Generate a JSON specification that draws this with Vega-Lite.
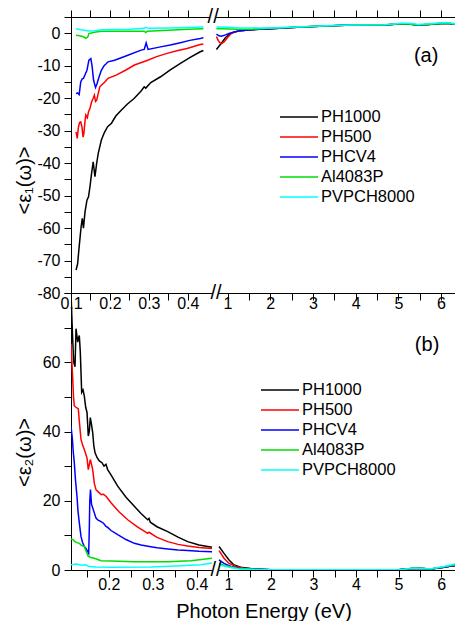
{
  "$schema": "https://vega.github.io/schema/vega-lite/v6.json",
  "padding": {"left": 14, "top": 7, "right": 0, "bottom": 0},
  "bounds": "flush",
  "spacing": 0,
  "config": {
    "font": "Liberation Sans",
    "view": {"stroke": null},
    "axis": {"labelFontSize": 16, "labelColor": "black", "domainColor": "black", "tickColor": "black", "titleFontSize": 20, "titleFontWeight": "normal", "titleColor": "black", "grid": false, "labelFlush": false, "labelOverlap": false, "domainWidth": 1, "tickWidth": 1, "tickSize": 7},
    "legend": {"labelFontSize": 16.5, "labelColor": "black", "symbolType": "M-1.9,0H1.9", "symbolSize": 400, "symbolStrokeWidth": 1.5, "labelOffset": 11, "rowPadding": -0.1, "padding": 0}
  },
  "resolve": {"scale": {"x": "independent", "y": "independent", "color": "independent"}, "legend": {"color": "independent"}},
  "datasets": {
    "e": [
      {"p":"a","s":"PH1000","g":"L","x":0.113,"y":-72.9},{"p":"a","s":"PH1000","g":"L","x":0.117,"y":-71},{"p":"a","s":"PH1000","g":"L","x":0.121,"y":-65.7},{"p":"a","s":"PH1000","g":"L","x":0.124,"y":-62},{"p":"a","s":"PH1000","g":"L","x":0.126,"y":-59.6},{"p":"a","s":"PH1000","g":"L","x":0.129,"y":-57},{"p":"a","s":"PH1000","g":"L","x":0.132,"y":-60},{"p":"a","s":"PH1000","g":"L","x":0.136,"y":-55},{"p":"a","s":"PH1000","g":"L","x":0.141,"y":-51.4},{"p":"a","s":"PH1000","g":"L","x":0.145,"y":-50.4},{"p":"a","s":"PH1000","g":"L","x":0.149,"y":-47},{"p":"a","s":"PH1000","g":"L","x":0.153,"y":-43},{"p":"a","s":"PH1000","g":"L","x":0.157,"y":-39.6},{"p":"a","s":"PH1000","g":"L","x":0.1615,"y":-44.2},{"p":"a","s":"PH1000","g":"L","x":0.166,"y":-40},{"p":"a","s":"PH1000","g":"L","x":0.17,"y":-37},{"p":"a","s":"PH1000","g":"L","x":0.178,"y":-32.9},{"p":"a","s":"PH1000","g":"L","x":0.186,"y":-30.5},{"p":"a","s":"PH1000","g":"L","x":0.194,"y":-28.8},{"p":"a","s":"PH1000","g":"L","x":0.204,"y":-27.7},{"p":"a","s":"PH1000","g":"L","x":0.215,"y":-25.5},{"p":"a","s":"PH1000","g":"L","x":0.229,"y":-23.7},{"p":"a","s":"PH1000","g":"L","x":0.245,"y":-21.8},{"p":"a","s":"PH1000","g":"L","x":0.262,"y":-20.1},{"p":"a","s":"PH1000","g":"L","x":0.28,"y":-17.8},{"p":"a","s":"PH1000","g":"L","x":0.288,"y":-16.5},{"p":"a","s":"PH1000","g":"L","x":0.292,"y":-16.9},{"p":"a","s":"PH1000","g":"L","x":0.305,"y":-15.2},{"p":"a","s":"PH1000","g":"L","x":0.33,"y":-13.4},{"p":"a","s":"PH1000","g":"L","x":0.355,"y":-11.3},{"p":"a","s":"PH1000","g":"L","x":0.381,"y":-9.3},{"p":"a","s":"PH1000","g":"L","x":0.405,"y":-7.5},{"p":"a","s":"PH1000","g":"L","x":0.432,"y":-5.7},{"p":"a","s":"PH1000","g":"L","x":0.44,"y":-5.3},
      {"p":"a","s":"PH1000","g":"R","x":0.74,"y":-5},{"p":"a","s":"PH1000","g":"R","x":0.8,"y":-4},{"p":"a","s":"PH1000","g":"R","x":0.86,"y":-3},{"p":"a","s":"PH1000","g":"R","x":0.95,"y":-1.4},{"p":"a","s":"PH1000","g":"R","x":1.05,"y":-0.2},{"p":"a","s":"PH1000","g":"R","x":1.16,"y":0.4},{"p":"a","s":"PH1000","g":"R","x":1.3,"y":0.8},{"p":"a","s":"PH1000","g":"R","x":1.56,"y":1.1},{"p":"a","s":"PH1000","g":"R","x":2,"y":1.4},{"p":"a","s":"PH1000","g":"R","x":2.73,"y":1.9},{"p":"a","s":"PH1000","g":"R","x":3.3,"y":2.2},{"p":"a","s":"PH1000","g":"R","x":3.9,"y":2.5},{"p":"a","s":"PH1000","g":"R","x":4.67,"y":2.5},{"p":"a","s":"PH1000","g":"R","x":5.07,"y":2.9},{"p":"a","s":"PH1000","g":"R","x":5.3,"y":2.8},{"p":"a","s":"PH1000","g":"R","x":5.46,"y":2.5},{"p":"a","s":"PH1000","g":"R","x":5.7,"y":2.7},{"p":"a","s":"PH1000","g":"R","x":6,"y":3},{"p":"a","s":"PH1000","g":"R","x":6.15,"y":3.1},{"p":"a","s":"PH1000","g":"R","x":6.35,"y":2.7},
      {"p":"a","s":"PH500","g":"L","x":0.113,"y":-30.4},{"p":"a","s":"PH500","g":"L","x":0.116,"y":-32.4},{"p":"a","s":"PH500","g":"L","x":0.119,"y":-29},{"p":"a","s":"PH500","g":"L","x":0.122,"y":-27.5},{"p":"a","s":"PH500","g":"L","x":0.125,"y":-27.3},{"p":"a","s":"PH500","g":"L","x":0.128,"y":-28.8},{"p":"a","s":"PH500","g":"L","x":0.131,"y":-32},{"p":"a","s":"PH500","g":"L","x":0.133,"y":-30.9},{"p":"a","s":"PH500","g":"L","x":0.136,"y":-27},{"p":"a","s":"PH500","g":"L","x":0.138,"y":-25.2},{"p":"a","s":"PH500","g":"L","x":0.142,"y":-26},{"p":"a","s":"PH500","g":"L","x":0.145,"y":-24.2},{"p":"a","s":"PH500","g":"L","x":0.149,"y":-23},{"p":"a","s":"PH500","g":"L","x":0.153,"y":-21.1},{"p":"a","s":"PH500","g":"L","x":0.157,"y":-20},{"p":"a","s":"PH500","g":"L","x":0.16,"y":-19.1},{"p":"a","s":"PH500","g":"L","x":0.163,"y":-21},{"p":"a","s":"PH500","g":"L","x":0.166,"y":-20.6},{"p":"a","s":"PH500","g":"L","x":0.17,"y":-18.5},{"p":"a","s":"PH500","g":"L","x":0.174,"y":-16.5},{"p":"a","s":"PH500","g":"L","x":0.18,"y":-15.8},{"p":"a","s":"PH500","g":"L","x":0.187,"y":-15},{"p":"a","s":"PH500","g":"L","x":0.195,"y":-13.9},{"p":"a","s":"PH500","g":"L","x":0.216,"y":-12.9},{"p":"a","s":"PH500","g":"L","x":0.24,"y":-11.4},{"p":"a","s":"PH500","g":"L","x":0.263,"y":-9.8},{"p":"a","s":"PH500","g":"L","x":0.297,"y":-8.3},{"p":"a","s":"PH500","g":"L","x":0.32,"y":-7.2},{"p":"a","s":"PH500","g":"L","x":0.347,"y":-6.2},{"p":"a","s":"PH500","g":"L","x":0.372,"y":-5.4},{"p":"a","s":"PH500","g":"L","x":0.398,"y":-4.7},{"p":"a","s":"PH500","g":"L","x":0.432,"y":-3.5},{"p":"a","s":"PH500","g":"L","x":0.44,"y":-3.3},
      {"p":"a","s":"PH500","g":"R","x":0.74,"y":-1},{"p":"a","s":"PH500","g":"R","x":0.78,"y":-2.2},{"p":"a","s":"PH500","g":"R","x":0.82,"y":-2.9},{"p":"a","s":"PH500","g":"R","x":0.86,"y":-3.2},{"p":"a","s":"PH500","g":"R","x":0.93,"y":-2.5},{"p":"a","s":"PH500","g":"R","x":1,"y":-1.3},{"p":"a","s":"PH500","g":"R","x":1.09,"y":-0.1},{"p":"a","s":"PH500","g":"R","x":1.16,"y":0.4},{"p":"a","s":"PH500","g":"R","x":1.3,"y":0.8},{"p":"a","s":"PH500","g":"R","x":1.56,"y":1.1},{"p":"a","s":"PH500","g":"R","x":2,"y":1.4},{"p":"a","s":"PH500","g":"R","x":2.73,"y":1.9},{"p":"a","s":"PH500","g":"R","x":3.3,"y":2.2},{"p":"a","s":"PH500","g":"R","x":3.9,"y":2.5},{"p":"a","s":"PH500","g":"R","x":4.67,"y":2.5},{"p":"a","s":"PH500","g":"R","x":5.07,"y":2.9},{"p":"a","s":"PH500","g":"R","x":5.3,"y":2.8},{"p":"a","s":"PH500","g":"R","x":5.46,"y":2.5},{"p":"a","s":"PH500","g":"R","x":5.7,"y":2.7},{"p":"a","s":"PH500","g":"R","x":6,"y":3},{"p":"a","s":"PH500","g":"R","x":6.15,"y":3.1},{"p":"a","s":"PH500","g":"R","x":6.35,"y":2.7},
      {"p":"a","s":"PHCV4","g":"L","x":0.113,"y":-18.6},{"p":"a","s":"PHCV4","g":"L","x":0.117,"y":-18.4},{"p":"a","s":"PHCV4","g":"L","x":0.121,"y":-18.9},{"p":"a","s":"PHCV4","g":"L","x":0.125,"y":-15},{"p":"a","s":"PHCV4","g":"L","x":0.129,"y":-14},{"p":"a","s":"PHCV4","g":"L","x":0.132,"y":-13.9},{"p":"a","s":"PHCV4","g":"L","x":0.136,"y":-12.8},{"p":"a","s":"PHCV4","g":"L","x":0.141,"y":-11.4},{"p":"a","s":"PHCV4","g":"L","x":0.144,"y":-9.5},{"p":"a","s":"PHCV4","g":"L","x":0.146,"y":-8.3},{"p":"a","s":"PHCV4","g":"L","x":0.151,"y":-7.8},{"p":"a","s":"PHCV4","g":"L","x":0.154,"y":-10},{"p":"a","s":"PHCV4","g":"L","x":0.158,"y":-14.5},{"p":"a","s":"PHCV4","g":"L","x":0.163,"y":-16.7},{"p":"a","s":"PHCV4","g":"L","x":0.167,"y":-15.5},{"p":"a","s":"PHCV4","g":"L","x":0.172,"y":-13.5},{"p":"a","s":"PHCV4","g":"L","x":0.178,"y":-11.4},{"p":"a","s":"PHCV4","g":"L","x":0.185,"y":-10},{"p":"a","s":"PHCV4","g":"L","x":0.191,"y":-9.3},{"p":"a","s":"PHCV4","g":"L","x":0.195,"y":-8.8},{"p":"a","s":"PHCV4","g":"L","x":0.212,"y":-8.3},{"p":"a","s":"PHCV4","g":"L","x":0.246,"y":-6.8},{"p":"a","s":"PHCV4","g":"L","x":0.28,"y":-5.2},{"p":"a","s":"PHCV4","g":"L","x":0.288,"y":-5},{"p":"a","s":"PHCV4","g":"L","x":0.293,"y":-3},{"p":"a","s":"PHCV4","g":"L","x":0.298,"y":-5},{"p":"a","s":"PHCV4","g":"L","x":0.33,"y":-4.2},{"p":"a","s":"PHCV4","g":"L","x":0.355,"y":-3.6},{"p":"a","s":"PHCV4","g":"L","x":0.381,"y":-2.9},{"p":"a","s":"PHCV4","g":"L","x":0.405,"y":-2.2},{"p":"a","s":"PHCV4","g":"L","x":0.432,"y":-1.6},{"p":"a","s":"PHCV4","g":"L","x":0.44,"y":-1.4},
      {"p":"a","s":"PHCV4","g":"R","x":0.74,"y":-0.3},{"p":"a","s":"PHCV4","g":"R","x":0.8,"y":-0.8},{"p":"a","s":"PHCV4","g":"R","x":0.86,"y":-0.9},{"p":"a","s":"PHCV4","g":"R","x":0.95,"y":-0.5},{"p":"a","s":"PHCV4","g":"R","x":1.05,"y":0},{"p":"a","s":"PHCV4","g":"R","x":1.16,"y":0.4},{"p":"a","s":"PHCV4","g":"R","x":1.3,"y":0.8},{"p":"a","s":"PHCV4","g":"R","x":1.56,"y":1.1},{"p":"a","s":"PHCV4","g":"R","x":2,"y":1.4},{"p":"a","s":"PHCV4","g":"R","x":2.73,"y":1.9},{"p":"a","s":"PHCV4","g":"R","x":3.3,"y":2.2},{"p":"a","s":"PHCV4","g":"R","x":3.9,"y":2.5},{"p":"a","s":"PHCV4","g":"R","x":4.67,"y":2.5},{"p":"a","s":"PHCV4","g":"R","x":5.07,"y":2.9},{"p":"a","s":"PHCV4","g":"R","x":5.3,"y":2.8},{"p":"a","s":"PHCV4","g":"R","x":5.46,"y":2.5},{"p":"a","s":"PHCV4","g":"R","x":5.7,"y":2.7},{"p":"a","s":"PHCV4","g":"R","x":6,"y":3},{"p":"a","s":"PHCV4","g":"R","x":6.15,"y":3.1},{"p":"a","s":"PHCV4","g":"R","x":6.35,"y":2.7},
      {"p":"a","s":"Al4083P","g":"L","x":0.113,"y":-0.6},{"p":"a","s":"Al4083P","g":"L","x":0.122,"y":-0.8},{"p":"a","s":"Al4083P","g":"L","x":0.132,"y":-1.1},{"p":"a","s":"Al4083P","g":"L","x":0.138,"y":-1.6},{"p":"a","s":"Al4083P","g":"L","x":0.143,"y":-1.2},{"p":"a","s":"Al4083P","g":"L","x":0.146,"y":-0.1},{"p":"a","s":"Al4083P","g":"L","x":0.16,"y":0.3},{"p":"a","s":"Al4083P","g":"L","x":0.178,"y":0.6},{"p":"a","s":"Al4083P","g":"L","x":0.204,"y":0.6},{"p":"a","s":"Al4083P","g":"L","x":0.25,"y":0.6},{"p":"a","s":"Al4083P","g":"L","x":0.288,"y":0.6},{"p":"a","s":"Al4083P","g":"L","x":0.292,"y":0.2},{"p":"a","s":"Al4083P","g":"L","x":0.296,"y":0.6},{"p":"a","s":"Al4083P","g":"L","x":0.35,"y":0.9},{"p":"a","s":"Al4083P","g":"L","x":0.4,"y":1.2},{"p":"a","s":"Al4083P","g":"L","x":0.44,"y":1.4},
      {"p":"a","s":"Al4083P","g":"R","x":0.74,"y":1.4},{"p":"a","s":"Al4083P","g":"R","x":0.9,"y":1.4},{"p":"a","s":"Al4083P","g":"R","x":1.2,"y":1.2},{"p":"a","s":"Al4083P","g":"R","x":1.56,"y":1.2},{"p":"a","s":"Al4083P","g":"R","x":2,"y":1.5},{"p":"a","s":"Al4083P","g":"R","x":2.73,"y":1.9},{"p":"a","s":"Al4083P","g":"R","x":3.3,"y":2.2},{"p":"a","s":"Al4083P","g":"R","x":3.9,"y":2.5},{"p":"a","s":"Al4083P","g":"R","x":4.67,"y":2.5},{"p":"a","s":"Al4083P","g":"R","x":5.07,"y":2.9},{"p":"a","s":"Al4083P","g":"R","x":5.3,"y":2.8},{"p":"a","s":"Al4083P","g":"R","x":5.46,"y":2.5},{"p":"a","s":"Al4083P","g":"R","x":5.7,"y":2.7},{"p":"a","s":"Al4083P","g":"R","x":6,"y":3},{"p":"a","s":"Al4083P","g":"R","x":6.15,"y":3.1},{"p":"a","s":"Al4083P","g":"R","x":6.35,"y":2.7},
      {"p":"a","s":"PVPCH8000","g":"L","x":0.113,"y":1.4},{"p":"a","s":"PVPCH8000","g":"L","x":0.125,"y":1.1},{"p":"a","s":"PVPCH8000","g":"L","x":0.145,"y":0.7},{"p":"a","s":"PVPCH8000","g":"L","x":0.16,"y":0.8},{"p":"a","s":"PVPCH8000","g":"L","x":0.178,"y":1.1},{"p":"a","s":"PVPCH8000","g":"L","x":0.25,"y":1.2},{"p":"a","s":"PVPCH8000","g":"L","x":0.288,"y":1.5},{"p":"a","s":"PVPCH8000","g":"L","x":0.292,"y":1.8},{"p":"a","s":"PVPCH8000","g":"L","x":0.3,"y":1.5},{"p":"a","s":"PVPCH8000","g":"L","x":0.35,"y":1.6},{"p":"a","s":"PVPCH8000","g":"L","x":0.4,"y":1.8},{"p":"a","s":"PVPCH8000","g":"L","x":0.44,"y":1.9},
      {"p":"a","s":"PVPCH8000","g":"R","x":0.74,"y":1.9},{"p":"a","s":"PVPCH8000","g":"R","x":0.9,"y":1.9},{"p":"a","s":"PVPCH8000","g":"R","x":1.3,"y":1.6},{"p":"a","s":"PVPCH8000","g":"R","x":2,"y":1.6},{"p":"a","s":"PVPCH8000","g":"R","x":2.73,"y":2},{"p":"a","s":"PVPCH8000","g":"R","x":3.3,"y":2.3},{"p":"a","s":"PVPCH8000","g":"R","x":3.9,"y":2.5},{"p":"a","s":"PVPCH8000","g":"R","x":4.67,"y":2.6},{"p":"a","s":"PVPCH8000","g":"R","x":5.07,"y":3.1},{"p":"a","s":"PVPCH8000","g":"R","x":5.3,"y":3.1},{"p":"a","s":"PVPCH8000","g":"R","x":5.46,"y":2.7},{"p":"a","s":"PVPCH8000","g":"R","x":5.7,"y":2.9},{"p":"a","s":"PVPCH8000","g":"R","x":6,"y":3.2},{"p":"a","s":"PVPCH8000","g":"R","x":6.15,"y":3.3},{"p":"a","s":"PVPCH8000","g":"R","x":6.35,"y":2.9},

      {"p":"b","s":"PH1000","g":"L","x":0.114,"y":80},{"p":"b","s":"PH1000","g":"L","x":0.1174,"y":68},{"p":"b","s":"PH1000","g":"L","x":0.1201,"y":60},{"p":"b","s":"PH1000","g":"L","x":0.1231,"y":58.7},{"p":"b","s":"PH1000","g":"L","x":0.1254,"y":69.7},{"p":"b","s":"PH1000","g":"L","x":0.1292,"y":65.8},{"p":"b","s":"PH1000","g":"L","x":0.131,"y":67},{"p":"b","s":"PH1000","g":"L","x":0.1329,"y":67.7},{"p":"b","s":"PH1000","g":"L","x":0.1351,"y":63},{"p":"b","s":"PH1000","g":"L","x":0.1383,"y":51.3},{"p":"b","s":"PH1000","g":"L","x":0.1413,"y":52},{"p":"b","s":"PH1000","g":"L","x":0.1442,"y":50.3},{"p":"b","s":"PH1000","g":"L","x":0.1474,"y":47},{"p":"b","s":"PH1000","g":"L","x":0.1504,"y":45.5},{"p":"b","s":"PH1000","g":"L","x":0.1533,"y":38.7},{"p":"b","s":"PH1000","g":"L","x":0.1556,"y":40},{"p":"b","s":"PH1000","g":"L","x":0.1579,"y":44},{"p":"b","s":"PH1000","g":"L","x":0.1606,"y":42},{"p":"b","s":"PH1000","g":"L","x":0.1633,"y":39.7},{"p":"b","s":"PH1000","g":"L","x":0.1658,"y":36},{"p":"b","s":"PH1000","g":"L","x":0.1685,"y":33.9},{"p":"b","s":"PH1000","g":"L","x":0.1731,"y":32.5},{"p":"b","s":"PH1000","g":"L","x":0.1783,"y":31.5},{"p":"b","s":"PH1000","g":"L","x":0.1844,"y":31},{"p":"b","s":"PH1000","g":"L","x":0.189,"y":30},{"p":"b","s":"PH1000","g":"L","x":0.1935,"y":30.5},{"p":"b","s":"PH1000","g":"L","x":0.1974,"y":29},{"p":"b","s":"PH1000","g":"L","x":0.2049,"y":27.5},{"p":"b","s":"PH1000","g":"L","x":0.2201,"y":24.2},{"p":"b","s":"PH1000","g":"L","x":0.239,"y":21},{"p":"b","s":"PH1000","g":"L","x":0.2579,"y":18.4},{"p":"b","s":"PH1000","g":"L","x":0.2731,"y":16.3},{"p":"b","s":"PH1000","g":"L","x":0.2883,"y":14.5},{"p":"b","s":"PH1000","g":"L","x":0.2913,"y":14.9},{"p":"b","s":"PH1000","g":"L","x":0.2942,"y":13.8},{"p":"b","s":"PH1000","g":"L","x":0.3095,"y":12.5},{"p":"b","s":"PH1000","g":"L","x":0.3338,"y":11.1},{"p":"b","s":"PH1000","g":"L","x":0.3572,"y":9.5},{"p":"b","s":"PH1000","g":"L","x":0.3792,"y":8.2},{"p":"b","s":"PH1000","g":"L","x":0.4049,"y":7.2},{"p":"b","s":"PH1000","g":"L","x":0.4345,"y":6.6},
      {"p":"b","s":"PH1000","g":"R","x":0.781,"y":6.8},{"p":"b","s":"PH1000","g":"R","x":0.898,"y":4.8},{"p":"b","s":"PH1000","g":"R","x":1.016,"y":2.9},{"p":"b","s":"PH1000","g":"R","x":1.134,"y":1.45},{"p":"b","s":"PH1000","g":"R","x":1.291,"y":0.8},{"p":"b","s":"PH1000","g":"R","x":1.526,"y":0.4},{"p":"b","s":"PH1000","g":"R","x":2,"y":0.1},{"p":"b","s":"PH1000","g":"R","x":3,"y":0.05},{"p":"b","s":"PH1000","g":"R","x":4,"y":0.05},{"p":"b","s":"PH1000","g":"R","x":5,"y":0.1},{"p":"b","s":"PH1000","g":"R","x":5.2,"y":0.3},{"p":"b","s":"PH1000","g":"R","x":5.37,"y":0.5},{"p":"b","s":"PH1000","g":"R","x":5.55,"y":0.4},{"p":"b","s":"PH1000","g":"R","x":5.76,"y":0.3},{"p":"b","s":"PH1000","g":"R","x":6.07,"y":0.8},{"p":"b","s":"PH1000","g":"R","x":6.2,"y":1.1},{"p":"b","s":"PH1000","g":"R","x":6.35,"y":1.3},
      {"p":"b","s":"PH500","g":"L","x":0.114,"y":65.3},{"p":"b","s":"PH500","g":"L","x":0.1179,"y":55.2},{"p":"b","s":"PH500","g":"L","x":0.1197,"y":50},{"p":"b","s":"PH500","g":"L","x":0.1215,"y":47.4},{"p":"b","s":"PH500","g":"L","x":0.1254,"y":47},{"p":"b","s":"PH500","g":"L","x":0.1306,"y":46.5},{"p":"b","s":"PH500","g":"L","x":0.1329,"y":43},{"p":"b","s":"PH500","g":"L","x":0.1367,"y":37.7},{"p":"b","s":"PH500","g":"L","x":0.1406,"y":36},{"p":"b","s":"PH500","g":"L","x":0.1442,"y":34.8},{"p":"b","s":"PH500","g":"L","x":0.1504,"y":32.4},{"p":"b","s":"PH500","g":"L","x":0.1533,"y":29},{"p":"b","s":"PH500","g":"L","x":0.1579,"y":31.9},{"p":"b","s":"PH500","g":"L","x":0.1606,"y":30.5},{"p":"b","s":"PH500","g":"L","x":0.1633,"y":29},{"p":"b","s":"PH500","g":"L","x":0.167,"y":25},{"p":"b","s":"PH500","g":"L","x":0.1708,"y":23.2},{"p":"b","s":"PH500","g":"L","x":0.1765,"y":22.5},{"p":"b","s":"PH500","g":"L","x":0.1822,"y":21.8},{"p":"b","s":"PH500","g":"L","x":0.1879,"y":21.9},{"p":"b","s":"PH500","g":"L","x":0.1935,"y":21.3},{"p":"b","s":"PH500","g":"L","x":0.2049,"y":19.4},{"p":"b","s":"PH500","g":"L","x":0.2231,"y":16.8},{"p":"b","s":"PH500","g":"L","x":0.2429,"y":14.5},{"p":"b","s":"PH500","g":"L","x":0.264,"y":12.5},{"p":"b","s":"PH500","g":"L","x":0.2883,"y":10.6},{"p":"b","s":"PH500","g":"L","x":0.2913,"y":10.9},{"p":"b","s":"PH500","g":"L","x":0.3095,"y":9.4},{"p":"b","s":"PH500","g":"L","x":0.3338,"y":8.2},{"p":"b","s":"PH500","g":"L","x":0.3572,"y":7.4},{"p":"b","s":"PH500","g":"L","x":0.3792,"y":6.9},{"p":"b","s":"PH500","g":"L","x":0.4049,"y":6.5},{"p":"b","s":"PH500","g":"L","x":0.4345,"y":6.2},
      {"p":"b","s":"PH500","g":"R","x":0.781,"y":5.6},{"p":"b","s":"PH500","g":"R","x":0.898,"y":3.4},{"p":"b","s":"PH500","g":"R","x":1.016,"y":1.9},{"p":"b","s":"PH500","g":"R","x":1.18,"y":1},{"p":"b","s":"PH500","g":"R","x":1.37,"y":0.5},{"p":"b","s":"PH500","g":"R","x":1.6,"y":0.2},{"p":"b","s":"PH500","g":"R","x":2,"y":0.1},{"p":"b","s":"PH500","g":"R","x":3,"y":0.05},{"p":"b","s":"PH500","g":"R","x":4,"y":0.05},{"p":"b","s":"PH500","g":"R","x":5,"y":0.1},{"p":"b","s":"PH500","g":"R","x":5.2,"y":0.3},{"p":"b","s":"PH500","g":"R","x":5.37,"y":0.5},{"p":"b","s":"PH500","g":"R","x":5.55,"y":0.4},{"p":"b","s":"PH500","g":"R","x":5.76,"y":0.3},{"p":"b","s":"PH500","g":"R","x":6.07,"y":0.8},{"p":"b","s":"PH500","g":"R","x":6.2,"y":1.1},{"p":"b","s":"PH500","g":"R","x":6.35,"y":1.2},
      {"p":"b","s":"PHCV4","g":"L","x":0.114,"y":41.6},{"p":"b","s":"PHCV4","g":"L","x":0.117,"y":38},{"p":"b","s":"PHCV4","g":"L","x":0.1192,"y":34},{"p":"b","s":"PHCV4","g":"L","x":0.1215,"y":31},{"p":"b","s":"PHCV4","g":"L","x":0.1242,"y":26},{"p":"b","s":"PHCV4","g":"L","x":0.1276,"y":21.3},{"p":"b","s":"PHCV4","g":"L","x":0.1299,"y":17},{"p":"b","s":"PHCV4","g":"L","x":0.1329,"y":13.6},{"p":"b","s":"PHCV4","g":"L","x":0.1367,"y":9.7},{"p":"b","s":"PHCV4","g":"L","x":0.1401,"y":8},{"p":"b","s":"PHCV4","g":"L","x":0.1442,"y":6.8},{"p":"b","s":"PHCV4","g":"L","x":0.1481,"y":6.2},{"p":"b","s":"PHCV4","g":"L","x":0.152,"y":5.3},{"p":"b","s":"PHCV4","g":"L","x":0.1542,"y":4.8},{"p":"b","s":"PHCV4","g":"L","x":0.1556,"y":12},{"p":"b","s":"PHCV4","g":"L","x":0.1567,"y":20},{"p":"b","s":"PHCV4","g":"L","x":0.1583,"y":23.2},{"p":"b","s":"PHCV4","g":"L","x":0.1606,"y":19},{"p":"b","s":"PHCV4","g":"L","x":0.167,"y":16.5},{"p":"b","s":"PHCV4","g":"L","x":0.1708,"y":15},{"p":"b","s":"PHCV4","g":"L","x":0.1747,"y":14.5},{"p":"b","s":"PHCV4","g":"L","x":0.1822,"y":14},{"p":"b","s":"PHCV4","g":"L","x":0.1879,"y":13.5},{"p":"b","s":"PHCV4","g":"L","x":0.1935,"y":12.6},{"p":"b","s":"PHCV4","g":"L","x":0.1974,"y":12.3},{"p":"b","s":"PHCV4","g":"L","x":0.2049,"y":11.4},{"p":"b","s":"PHCV4","g":"L","x":0.2201,"y":10.2},{"p":"b","s":"PHCV4","g":"L","x":0.239,"y":8.8},{"p":"b","s":"PHCV4","g":"L","x":0.2579,"y":7.7},{"p":"b","s":"PHCV4","g":"L","x":0.2731,"y":7.2},{"p":"b","s":"PHCV4","g":"L","x":0.292,"y":6.8},{"p":"b","s":"PHCV4","g":"L","x":0.3095,"y":6.4},{"p":"b","s":"PHCV4","g":"L","x":0.3338,"y":6.1},{"p":"b","s":"PHCV4","g":"L","x":0.3572,"y":5.8},{"p":"b","s":"PHCV4","g":"L","x":0.3792,"y":5.6},{"p":"b","s":"PHCV4","g":"L","x":0.4049,"y":5.4},{"p":"b","s":"PHCV4","g":"L","x":0.4345,"y":5.3},
      {"p":"b","s":"PHCV4","g":"R","x":0.781,"y":2.9},{"p":"b","s":"PHCV4","g":"R","x":0.898,"y":1.9},{"p":"b","s":"PHCV4","g":"R","x":1.06,"y":1},{"p":"b","s":"PHCV4","g":"R","x":1.25,"y":0.5},{"p":"b","s":"PHCV4","g":"R","x":1.6,"y":0.2},{"p":"b","s":"PHCV4","g":"R","x":2,"y":0.1},{"p":"b","s":"PHCV4","g":"R","x":3,"y":0.05},{"p":"b","s":"PHCV4","g":"R","x":4,"y":0.05},{"p":"b","s":"PHCV4","g":"R","x":5,"y":0.1},{"p":"b","s":"PHCV4","g":"R","x":5.2,"y":0.3},{"p":"b","s":"PHCV4","g":"R","x":5.37,"y":0.5},{"p":"b","s":"PHCV4","g":"R","x":5.55,"y":0.4},{"p":"b","s":"PHCV4","g":"R","x":5.76,"y":0.3},{"p":"b","s":"PHCV4","g":"R","x":6.07,"y":0.8},{"p":"b","s":"PHCV4","g":"R","x":6.2,"y":1.1},{"p":"b","s":"PHCV4","g":"R","x":6.35,"y":1.3},
      {"p":"b","s":"Al4083P","g":"L","x":0.114,"y":9},{"p":"b","s":"Al4083P","g":"L","x":0.1185,"y":8.8},{"p":"b","s":"Al4083P","g":"L","x":0.1231,"y":8.2},{"p":"b","s":"Al4083P","g":"L","x":0.1276,"y":7.9},{"p":"b","s":"Al4083P","g":"L","x":0.1329,"y":7.7},{"p":"b","s":"Al4083P","g":"L","x":0.1367,"y":7.2},{"p":"b","s":"Al4083P","g":"L","x":0.1442,"y":6.8},{"p":"b","s":"Al4083P","g":"L","x":0.1481,"y":5.5},{"p":"b","s":"Al4083P","g":"L","x":0.1533,"y":3.9},{"p":"b","s":"Al4083P","g":"L","x":0.1595,"y":3.6},{"p":"b","s":"Al4083P","g":"L","x":0.167,"y":3.4},{"p":"b","s":"Al4083P","g":"L","x":0.1822,"y":2.7},{"p":"b","s":"Al4083P","g":"L","x":0.2049,"y":2.6},{"p":"b","s":"Al4083P","g":"L","x":0.2579,"y":2.4},{"p":"b","s":"Al4083P","g":"L","x":0.3338,"y":2.4},{"p":"b","s":"Al4083P","g":"L","x":0.3867,"y":2.7},{"p":"b","s":"Al4083P","g":"L","x":0.4345,"y":3.4},
      {"p":"b","s":"Al4083P","g":"R","x":0.781,"y":1.9},{"p":"b","s":"Al4083P","g":"R","x":0.94,"y":1.2},{"p":"b","s":"Al4083P","g":"R","x":1.2,"y":0.5},{"p":"b","s":"Al4083P","g":"R","x":1.6,"y":0.2},{"p":"b","s":"Al4083P","g":"R","x":2,"y":0.1},{"p":"b","s":"Al4083P","g":"R","x":3,"y":0.05},{"p":"b","s":"Al4083P","g":"R","x":4,"y":0.05},{"p":"b","s":"Al4083P","g":"R","x":5,"y":0.1},{"p":"b","s":"Al4083P","g":"R","x":5.2,"y":0.3},{"p":"b","s":"Al4083P","g":"R","x":5.37,"y":0.5},{"p":"b","s":"Al4083P","g":"R","x":5.55,"y":0.4},{"p":"b","s":"Al4083P","g":"R","x":5.76,"y":0.3},{"p":"b","s":"Al4083P","g":"R","x":6.07,"y":0.9},{"p":"b","s":"Al4083P","g":"R","x":6.2,"y":1.2},{"p":"b","s":"Al4083P","g":"R","x":6.35,"y":1.5},
      {"p":"b","s":"PVPCH8000","g":"L","x":0.114,"y":1.5},{"p":"b","s":"PVPCH8000","g":"L","x":0.1276,"y":1.7},{"p":"b","s":"PVPCH8000","g":"L","x":0.1367,"y":1.4},{"p":"b","s":"PVPCH8000","g":"L","x":0.1481,"y":1.5},{"p":"b","s":"PVPCH8000","g":"L","x":0.1549,"y":1},{"p":"b","s":"PVPCH8000","g":"L","x":0.1708,"y":0.9},{"p":"b","s":"PVPCH8000","g":"L","x":0.2049,"y":0.8},{"p":"b","s":"PVPCH8000","g":"L","x":0.2958,"y":0.9},{"p":"b","s":"PVPCH8000","g":"L","x":0.364,"y":1.2},{"p":"b","s":"PVPCH8000","g":"L","x":0.4095,"y":1.5},{"p":"b","s":"PVPCH8000","g":"L","x":0.4345,"y":2},
      {"p":"b","s":"PVPCH8000","g":"R","x":0.781,"y":1.45},{"p":"b","s":"PVPCH8000","g":"R","x":1.02,"y":0.8},{"p":"b","s":"PVPCH8000","g":"R","x":1.25,"y":0.3},{"p":"b","s":"PVPCH8000","g":"R","x":1.6,"y":0.15},{"p":"b","s":"PVPCH8000","g":"R","x":2,"y":0.1},{"p":"b","s":"PVPCH8000","g":"R","x":3,"y":0.05},{"p":"b","s":"PVPCH8000","g":"R","x":4,"y":0.05},{"p":"b","s":"PVPCH8000","g":"R","x":5.06,"y":0.1},{"p":"b","s":"PVPCH8000","g":"R","x":5.2,"y":0.35},{"p":"b","s":"PVPCH8000","g":"R","x":5.37,"y":0.55},{"p":"b","s":"PVPCH8000","g":"R","x":5.55,"y":0.45},{"p":"b","s":"PVPCH8000","g":"R","x":5.76,"y":0.35},{"p":"b","s":"PVPCH8000","g":"R","x":6.07,"y":1},{"p":"b","s":"PVPCH8000","g":"R","x":6.2,"y":1.4},{"p":"b","s":"PVPCH8000","g":"R","x":6.35,"y":1.8}
    ]
  },
  "vconcat": [
    {
      "width": 385, "height": 276,
      "resolve": {"axis": {"x": "independent", "y": "independent"}},
      "layer": [
        {
          "data": {"values": [{"t": "gap"}]},
          "mark": {"type": "rect", "color": "white"},
          "encoding": {
            "x": {"datum": 0.46, "type": "quantitative", "scale": {"domain": [0.1, 0.457, 0.73, 6.35], "range": [0, 139, 145, 385], "nice": false, "zero": false}, "axis": null},
            "x2": {"datum": 0.727},
            "y": {"datum": 7, "type": "quantitative", "scale": {"domain": [-80, 5], "nice": false, "zero": false}, "axis": null},
            "y2": {"datum": -82}
          }
        },
        {
          "data": {"name": "e"},
          "transform": [{"filter": "datum.p === 'a'"}],
          "mark": {"type": "line", "strokeWidth": 1.5, "clip": true},
          "encoding": {
            "x": {"field": "x", "type": "quantitative", "scale": {"domain": [0.1, 0.457, 0.73, 6.35], "range": [0, 139, 145, 385], "nice": false, "zero": false},
              "axis": {"orient": "bottom", "title": null, "values": [0.1, 0.15, 0.2, 0.25, 0.3, 0.35, 0.4, 1, 1.5, 2, 2.5, 3, 3.5, 4, 4.5, 5, 5.5, 6],
                "labelExpr": "indexof([0.15,0.25,0.35,1.5,2.5,3.5,4.5,5.5], datum.value) >= 0 ? '' : toString(datum.value)",
                "labelPadding": -5,
                "encode": {"ticks": {"update": {"y2": {"signal": "indexof([0.15,0.25,0.35,1.5,2.5,3.5,4.5,5.5], datum.value) >= 0 ? -4 : -7"}}}}}},
            "y": {"field": "y", "type": "quantitative", "scale": {"domain": [-80, 5], "nice": false, "zero": false},
              "axis": {"orient": "left", "title": "<ε₁(ω)>", "titleX": -37, "titleY": 163, "values": [-80, -75, -70, -65, -60, -55, -50, -45, -40, -35, -30, -25, -20, -15, -10, -5, 0, 5],
                "labelExpr": "datum.value % 10 !== 0 ? '' : toString(datum.value)",
                "labelPadding": 4,
                "encode": {"ticks": {"update": {"x2": {"signal": "datum.value % 10 !== 0 ? 4 : 7"}}}}}},
            "color": {"field": "s", "type": "nominal", "scale": {"domain": ["PH1000", "PH500", "PHCV4", "Al4083P", "PVPCH8000"], "range": ["#000000", "#ff0000", "#0000ff", "#00dd00", "#00ffff"]},
              "legend": {"orient": "none", "legendX": 217, "legendY": 89, "title": null}},
            "detail": {"field": "g"}
          }
        },
        {
          "data": {"values": [{"t": "(a)"}]},
          "mark": {"type": "text", "fontSize": 20, "color": "black"},
          "encoding": {
            "text": {"field": "t"},
            "x": {"datum": 5.65, "type": "quantitative", "scale": {"domain": [0.1, 0.457, 0.73, 6.35], "range": [0, 139, 145, 385], "nice": false, "zero": false},
              "axis": {"orient": "top", "title": null, "labels": false, "values": [0.1, 0.15, 0.2, 0.25, 0.3, 0.35, 0.4, 1, 1.5, 2, 2.5, 3, 3.5, 4, 4.5, 5, 5.5, 6],
                "encode": {"ticks": {"update": {"y2": {"signal": "indexof([0.15,0.25,0.35,1.5,2.5,3.5,4.5,5.5], datum.value) >= 0 ? 4 : 6"}}}}}},
            "y": {"datum": -7.1, "type": "quantitative", "scale": {"domain": [-80, 5], "nice": false, "zero": false},
              "axis": {"orient": "right", "title": null, "labels": false, "values": [-80, -70, -60, -50, -40, -30, -20, -10, 0],
                "encode": {"ticks": {"update": {"x2": {"value": -5}}}}}}
          }
        },
        {
          "data": {"values": [{"t": "//"}]},
          "mark": {"type": "text", "fontSize": 20, "color": "black"},
          "encoding": {
            "text": {"field": "t"},
            "x": {"datum": 0.6, "type": "quantitative", "scale": {"domain": [0.1, 0.457, 0.73, 6.35], "range": [0, 139, 145, 385], "nice": false, "zero": false}, "axis": null},
            "y": {"datum": 5, "type": "quantitative", "scale": {"domain": [-80, 5], "nice": false, "zero": false}, "axis": null}
          }
        }
      ]
    },
    {
      "width": 385, "height": 277,
      "resolve": {"axis": {"x": "independent", "y": "independent"}},
      "layer": [
        {
          "data": {"values": [{"t": "gap"}]},
          "mark": {"type": "rect", "color": "white"},
          "encoding": {
            "x": {"datum": 0.44, "type": "quantitative", "scale": {"domain": [0.114, 0.4367, 0.78, 6.35], "range": [0, 142, 148, 385], "nice": false, "zero": false}, "axis": null},
            "x2": {"datum": 0.776},
            "y": {"datum": 81, "type": "quantitative", "scale": {"domain": [0, 80], "nice": false, "zero": false}, "axis": null},
            "y2": {"datum": -2}
          }
        },
        {
          "data": {"name": "e"},
          "transform": [{"filter": "datum.p === 'b'"}],
          "mark": {"type": "line", "strokeWidth": 1.5, "clip": true},
          "encoding": {
            "x": {"field": "x", "type": "quantitative", "scale": {"domain": [0.114, 0.4367, 0.78, 6.35], "range": [0, 142, 148, 385], "nice": false, "zero": false},
              "axis": {"orient": "bottom", "title": "Photon Energy (eV)", "titlePadding": 9, "values": [0.15, 0.2, 0.25, 0.3, 0.35, 0.4, 1, 1.5, 2, 2.5, 3, 3.5, 4, 4.5, 5, 5.5, 6],
                "labelExpr": "indexof([0.15,0.25,0.35,1.5,2.5,3.5,4.5,5.5], datum.value) >= 0 ? '' : toString(datum.value)",
                "labelPadding": -1,
                "encode": {"ticks": {"update": {"y2": {"signal": "indexof([0.15,0.25,0.35,1.5,2.5,3.5,4.5,5.5], datum.value) >= 0 ? -4 : -7"}}}}}},
            "y": {"field": "y", "type": "quantitative", "scale": {"domain": [0, 80], "nice": false, "zero": false},
              "axis": {"orient": "left", "title": "<ε₂(ω)>", "titleX": -37, "titleY": 159, "values": [0, 10, 20, 30, 40, 50, 60, 70, 80],
                "labelExpr": "(datum.value % 20 !== 0 || datum.value === 80) ? '' : toString(datum.value)",
                "labelPadding": 4,
                "encode": {"ticks": {"update": {"x2": {"signal": "datum.value % 20 !== 0 ? 4 : 7"}}}}}},
            "color": {"field": "s", "type": "nominal", "scale": {"domain": ["PH1000", "PH500", "PHCV4", "Al4083P", "PVPCH8000"], "range": ["#000000", "#ff0000", "#0000ff", "#00dd00", "#00ffff"]},
              "legend": {"orient": "none", "legendX": 198, "legendY": 86, "title": null}},
            "detail": {"field": "g"}
          }
        },
        {
          "data": {"values": [{"t": "(b)"}]},
          "mark": {"type": "text", "fontSize": 20, "color": "black"},
          "encoding": {
            "text": {"field": "t"},
            "x": {"datum": 5.67, "type": "quantitative", "scale": {"domain": [0.114, 0.4367, 0.78, 6.35], "range": [0, 142, 148, 385], "nice": false, "zero": false},
              "axis": {"orient": "top", "title": null, "labels": false, "ticks": false}},
            "y": {"datum": 65, "type": "quantitative", "scale": {"domain": [0, 80], "nice": false, "zero": false},
              "axis": {"orient": "right", "title": null, "labels": false, "values": [20, 40, 60],
                "encode": {"ticks": {"update": {"x2": {"value": -5}}}}}}
          }
        },
        {
          "data": {"values": [{"t": "//", "v": 80}, {"t": "//", "v": 0}]},
          "mark": {"type": "text", "fontSize": 20, "color": "black"},
          "encoding": {
            "text": {"field": "t"},
            "x": {"datum": 0.61, "type": "quantitative", "scale": {"domain": [0.114, 0.4367, 0.78, 6.35], "range": [0, 142, 148, 385], "nice": false, "zero": false}, "axis": null},
            "y": {"field": "v", "type": "quantitative", "scale": {"domain": [0, 80], "nice": false, "zero": false}, "axis": null}
          }
        }
      ]
    }
  ]
}
